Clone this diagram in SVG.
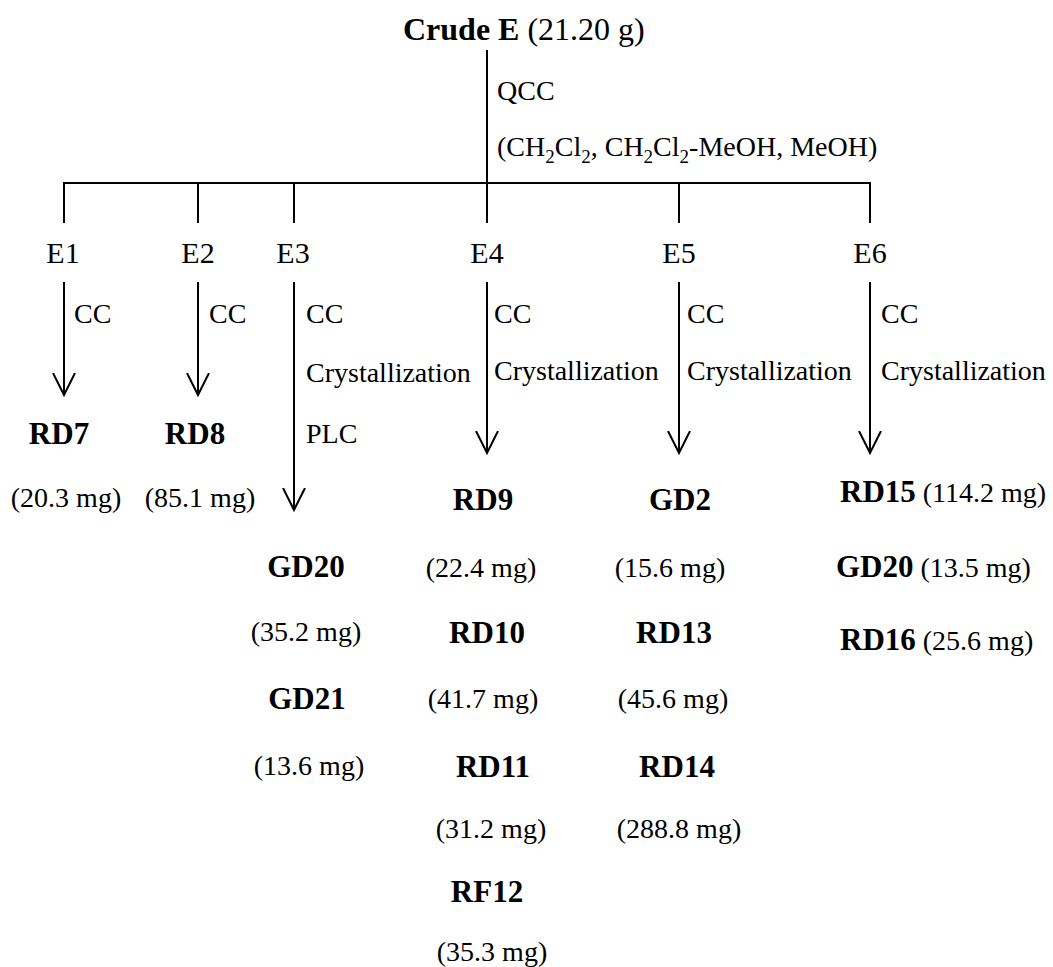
<svg xmlns="http://www.w3.org/2000/svg" width="1053" height="967" viewBox="0 0 1053 967">
<defs>
<style>
text{font-family:"Liberation Serif","Times New Roman",serif;fill:#000}
.r{font-size:28px}
.b{font-size:31px;font-weight:bold}
.e{font-size:30px}
.m{text-anchor:middle}
.ln{stroke:#000;stroke-width:2;fill:none}
</style>
<marker id="ah" viewBox="0 0 24 24" refX="22" refY="12" markerWidth="24" markerHeight="24" markerUnits="userSpaceOnUse" orient="auto">
<path d="M0,1 L22,12 L0,23" fill="none" stroke="#000" stroke-width="2"/>
</marker>
</defs>
<rect width="1053" height="967" fill="#fff"/>
<g id="connectors" class="ln">
<line x1="487" y1="50" x2="487" y2="223"/>
<line x1="63" y1="183" x2="871" y2="183"/>
<line x1="64" y1="183" x2="64" y2="223"/>
<line x1="198" y1="183" x2="198" y2="223"/>
<line x1="294" y1="183" x2="294" y2="223"/>
<line x1="679" y1="183" x2="679" y2="223"/>
<line x1="870" y1="183" x2="870" y2="223"/>
<line x1="64" y1="282" x2="64" y2="395" marker-end="url(#ah)"/>
<line x1="198" y1="282" x2="198" y2="395" marker-end="url(#ah)"/>
<line x1="294" y1="282" x2="294" y2="510" marker-end="url(#ah)"/>
<line x1="487" y1="282" x2="487" y2="453" marker-end="url(#ah)"/>
<line x1="679" y1="282" x2="679" y2="453" marker-end="url(#ah)"/>
<line x1="870" y1="282" x2="870" y2="453" marker-end="url(#ah)"/>
</g>
<g id="crude">
<text x="403" y="40" style="font-size:32px"><tspan font-weight="bold">Crude E</tspan> (21.20 g)</text>
</g>
<g id="qcc">
<text class="r" x="497" y="100">QCC</text>
<text class="r" x="497" y="156">(CH<tspan dy="7" font-size="19">2</tspan><tspan dy="-7">Cl</tspan><tspan dy="7" font-size="19">2</tspan><tspan dy="-7">, CH</tspan><tspan dy="7" font-size="19">2</tspan><tspan dy="-7">Cl</tspan><tspan dy="7" font-size="19">2</tspan><tspan dy="-7">-MeOH, MeOH)</tspan></text>
</g>
<g id="E1">
<text class="e m" x="63" y="263">E1</text>
<text class="r" x="74" y="323">CC</text>
<text class="b m" x="59" y="444">RD7</text>
<text class="r m" x="66" y="507">(20.3 mg)</text>
</g>
<g id="E2">
<text class="e m" x="198" y="263">E2</text>
<text class="r" x="209" y="323">CC</text>
<text class="b m" x="195" y="444">RD8</text>
<text class="r m" x="200" y="507">(85.1 mg)</text>
</g>
<g id="E3">
<text class="e m" x="293" y="263">E3</text>
<text class="r" x="306" y="323">CC</text>
<text class="r" x="306" y="382">Crystallization</text>
<text class="r" x="306" y="443">PLC</text>
<text class="b m" x="306" y="577">GD20</text>
<text class="r m" x="306" y="641">(35.2 mg)</text>
<text class="b m" x="307" y="709">GD21</text>
<text class="r m" x="309" y="775">(13.6 mg)</text>
</g>
<g id="E4">
<text class="e m" x="487" y="263">E4</text>
<text class="r" x="494" y="323">CC</text>
<text class="r" x="494" y="380">Crystallization</text>
<text class="b m" x="483" y="510">RD9</text>
<text class="r m" x="481" y="577">(22.4 mg)</text>
<text class="b m" x="487" y="643">RD10</text>
<text class="r m" x="483" y="708">(41.7 mg)</text>
<text class="b m" x="493" y="777">RD11</text>
<text class="r m" x="491" y="838">(31.2 mg)</text>
<text class="b m" x="487" y="902">RF12</text>
<text class="r m" x="492" y="961">(35.3 mg)</text>
</g>
<g id="E5">
<text class="e m" x="679" y="263">E5</text>
<text class="r" x="687" y="323">CC</text>
<text class="r" x="687" y="380">Crystallization</text>
<text class="b m" x="680" y="510">GD2</text>
<text class="r m" x="670" y="577">(15.6 mg)</text>
<text class="b m" x="674" y="643">RD13</text>
<text class="r m" x="673" y="708">(45.6 mg)</text>
<text class="b m" x="677" y="777">RD14</text>
<text class="r m" x="679" y="838">(288.8 mg)</text>
</g>
<g id="E6">
<text class="e m" x="870" y="263">E6</text>
<text class="r" x="881" y="323">CC</text>
<text class="r" x="881" y="380">Crystallization</text>
<text class="r" x="840" y="502"><tspan class="b">RD15</tspan> (114.2 mg)</text>
<text class="r" x="836" y="577"><tspan class="b">GD20</tspan> (13.5 mg)</text>
<text class="r" x="840" y="650"><tspan class="b">RD16</tspan> (25.6 mg)</text>
</g>
</svg>
